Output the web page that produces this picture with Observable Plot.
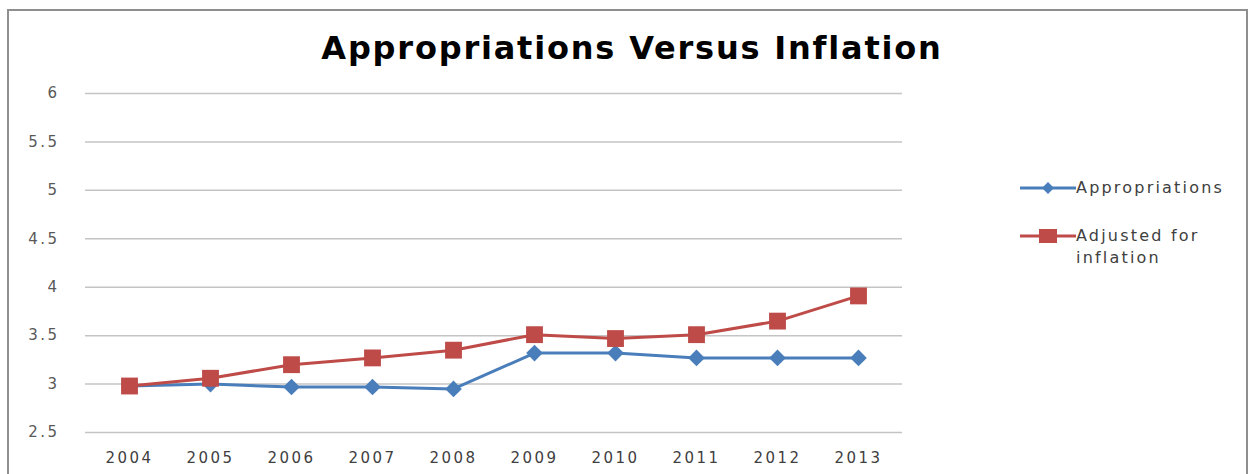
<!DOCTYPE html>
<html><head><meta charset="utf-8">
<script src="https://cdn.jsdelivr.net/npm/d3@7"></script>
<script src="https://cdn.jsdelivr.net/npm/@observablehq/plot@0.6"></script>
<style>
body{margin:0;background:#fff;}
#wrap{position:relative;width:1253px;height:474px;overflow:hidden;font-family:"DejaVu Sans",sans-serif;background:#fff;}
#frame{position:absolute;left:7px;top:9px;width:1241px;height:490px;border:2px solid #8f8f8f;box-sizing:border-box;}
#title{position:absolute;left:0;width:1264px;top:29px;text-align:center;font-weight:bold;font-size:32px;letter-spacing:1.8px;color:#000;line-height:38px;}
#chart{position:absolute;left:0;top:80px;}
.leg{position:absolute;left:1020px;display:flex;align-items:flex-start;font-size:16px;letter-spacing:2.2px;color:#404040;line-height:22px;}
.leg svg{flex:none;margin-top:1px;}
</style>
</head><body>
<div id="wrap">
  <div id="frame"></div>
  <div id="title">Appropriations Versus Inflation</div>
  <div id="chart"></div>
  <div id="legend"></div>
</div>
<script>
const years = ["2004","2005","2006","2007","2008","2009","2010","2011","2012","2013"];
const appropriations = [2.98, 3.0, 2.97, 2.97, 2.95, 3.32, 3.32, 3.27, 3.27, 3.27];
const adjusted = [2.98, 3.06, 3.2, 3.27, 3.35, 3.51, 3.47, 3.51, 3.65, 3.91];
const yTicks = [2.5, 3, 3.5, 4, 4.5, 5, 5.5, 6];
const seriesNames = ["Appropriations", "Adjusted for inflation"];
const seriesColors = ["#4a7ebb", "#be4b48"];

const rowsA = years.map((y, i) => ({year: y, value: appropriations[i]}));
const rowsB = years.map((y, i) => ({year: y, value: adjusted[i]}));

const plot = Plot.plot({
  width: 1253,
  height: 394,
  marginTop: 13,
  marginBottom: 42,
  marginLeft: 85,
  marginRight: 351,
  style: {fontFamily: "DejaVu Sans, sans-serif", fontSize: "15px", letterSpacing: "2.5px", color: "#595959", background: "transparent"},
  x: {type: "point", domain: years, padding: 0.5, label: null},
  y: {domain: [2.5, 6], label: null},
  marks: [
    Plot.gridY(yTicks, {stroke: "#c4c4c4", strokeOpacity: 1, strokeWidth: 1.5}),
    Plot.axisY(yTicks, {tickSize: 0, tickPadding: 26, tickFormat: d => String(d), fill: "#595959", label: null}),
    Plot.axisX({tickSize: 0, tickPadding: 20, fill: "#404040", label: null}),
    Plot.line(rowsA, {x: "year", y: "value", stroke: seriesColors[0], strokeWidth: 3}),
    Plot.dot(rowsA, {x: "year", y: "value", symbol: "diamond2", r: 7.5, fill: seriesColors[0], stroke: "none"}),
    Plot.line(rowsB, {x: "year", y: "value", stroke: seriesColors[1], strokeWidth: 3}),
    Plot.dot(rowsB, {x: "year", y: "value", symbol: "square", r: 9.5, fill: seriesColors[1], stroke: "none"})
  ]
});
document.getElementById("chart").appendChild(plot);

// legend
const legend = document.getElementById("legend");
const tops = [177, 225];
const labels = ["Appropriations", "Adjusted for<br>inflation"];
seriesNames.forEach((name, i) => {
  const div = document.createElement("div");
  div.className = "leg";
  div.style.top = tops[i] + "px";
  const marker = i === 0
    ? `<path d="M28,4 L34,10 L28,16 L22,10 Z" fill="${seriesColors[0]}"/>`
    : `<rect x="19" y="3" width="18" height="14" fill="${seriesColors[1]}"/>`;
  div.innerHTML = `<svg width="56" height="20"><line x1="0" x2="56" y1="10" y2="10" stroke="${seriesColors[i]}" stroke-width="3"/>${marker}</svg><span>${labels[i]}</span>`;
  div.title = name;
  legend.appendChild(div);
});
</script>
</body></html>
